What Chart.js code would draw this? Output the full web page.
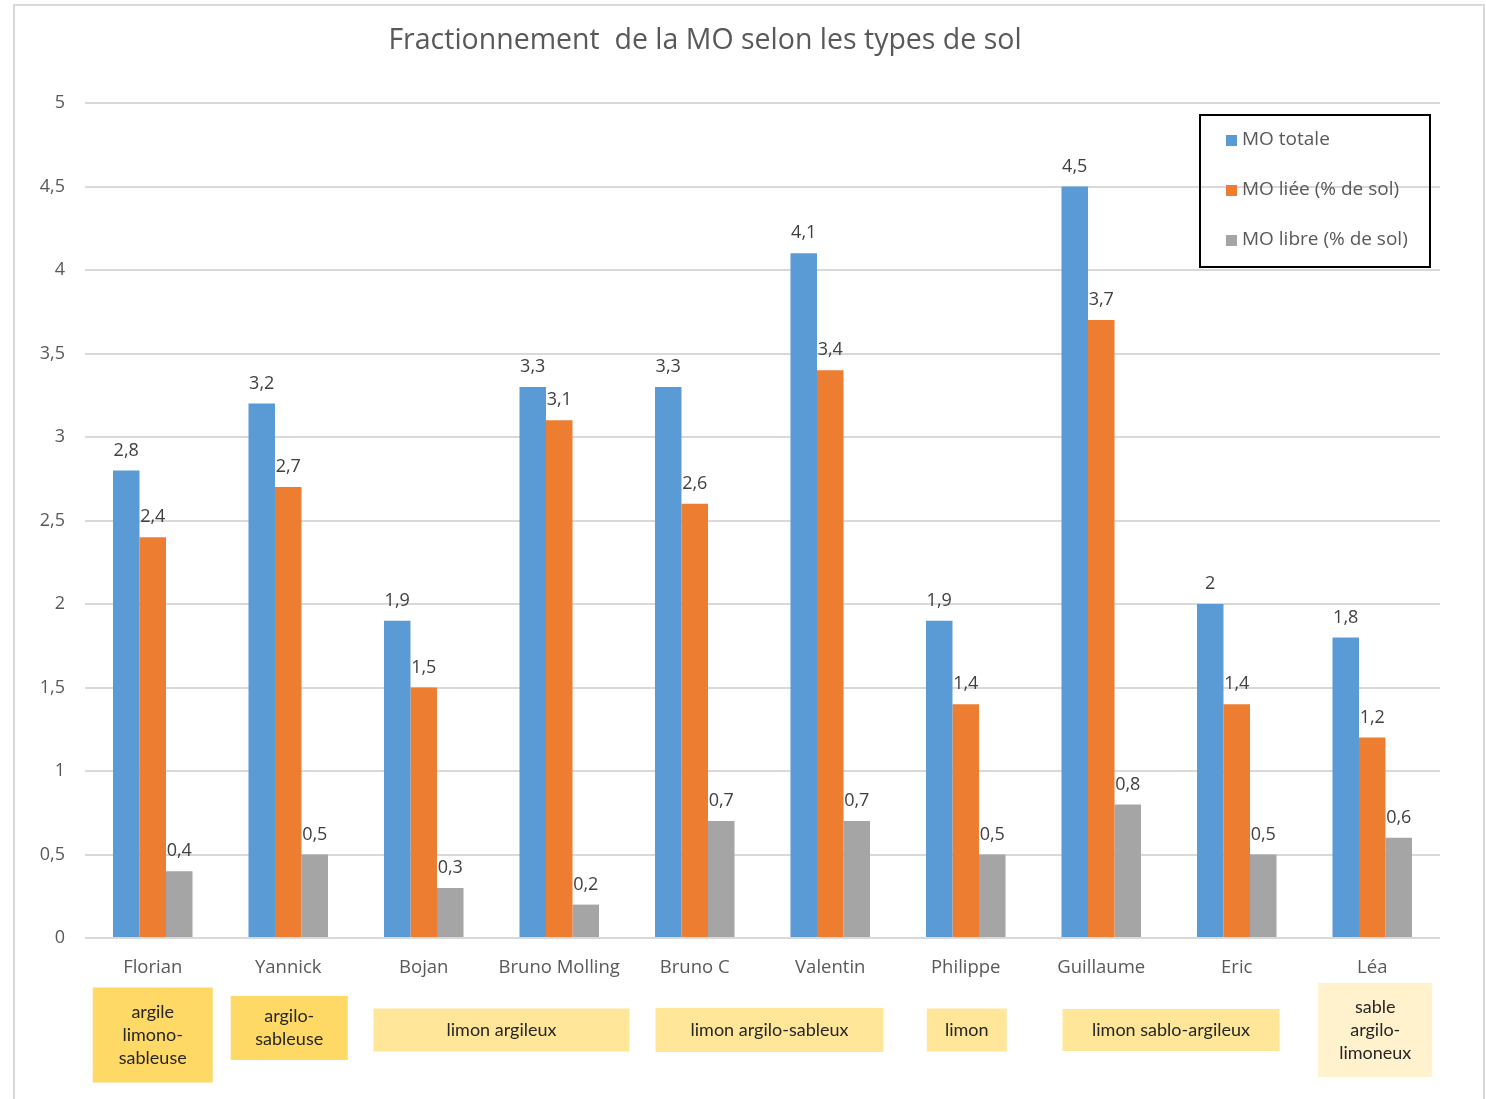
<!DOCTYPE html>
<html>
<head>
<meta charset="utf-8">
<script src="https://cdn.jsdelivr.net/npm/chart.js@4"></script>
<style>
  html, body { margin: 0; padding: 0; background: #fff; }
  canvas { display: block; }
</style>
</head>
<body>
<canvas id="moChart" width="1486" height="1099"></canvas>
<script>
// Données
const personnes = ['Florian', 'Yannick', 'Bojan', 'Bruno Molling', 'Bruno C', 'Valentin', 'Philippe', 'Guillaume', 'Eric', 'Léa'];
const moTotale = [2.8, 3.2, 1.9, 3.3, 3.3, 4.1, 1.9, 4.5, 2, 1.8];
const moLiee = [2.4, 2.7, 1.5, 3.1, 2.6, 3.4, 1.4, 3.7, 1.4, 1.2];
const moLibre = [0.4, 0.5, 0.3, 0.2, 0.7, 0.7, 0.5, 0.8, 0.5, 0.6];

// Types de sol (texte + catégories couvertes)
const typesSol = [['argile', 'limono-', 'sableuse'], ['argilo-', 'sableuse'], ['limon argileux'], ['limon argilo-sableux'], ['limon'], ['limon sablo-argileux'], ['sable', 'argilo-', 'limoneux']];
const solDebut = [0, 1, 2, 4, 6, 7, 9];
const solFin = [0, 1, 3, 5, 6, 8, 9];

// Apparence des cases de sol (décalage x, largeur, hauteur, couleur)
const styleSol = [
  { dx: 0, w: 120, h: 95, cy: 1035, color: '#FFD966' },
  { dx: 1, w: 117, h: 64, cy: 1028, color: '#FFD966' },
  { dx: 10, w: 256, h: 43, cy: 1030, color: '#FFE699' },
  { dx: 7, w: 228, h: 44, cy: 1030, color: '#FFE699' },
  { dx: 1, w: 80, h: 43, cy: 1030, color: '#FFE699' },
  { dx: 2, w: 217, h: 42, cy: 1030, color: '#FFE699' },
  { dx: 3, w: 114, h: 94, cy: 1030, color: '#FFF2CC' }
];

const TEXT = '#595959';
const fmt = v => String(v).replace('.', ',');

const decorPlugin = {
  id: 'decor',
  beforeDraw(chart) {
    const ctx = chart.ctx;
    ctx.save();
    // cadre
    ctx.strokeStyle = '#D9D9D9';
    ctx.lineWidth = 2;
    ctx.beginPath();
    ctx.moveTo(14, 1099);
    ctx.lineTo(14, 5);
    ctx.lineTo(1484, 5);
    ctx.lineTo(1484, 1099);
    ctx.stroke();
    // titre
    ctx.fillStyle = TEXT;
    ctx.font = '28.5px "Open Sans"';
    ctx.textAlign = 'center';
    ctx.textBaseline = 'middle';
    ctx.fillText('Fractionnement  de la MO selon les types de sol', 705, 41);
    ctx.restore();
  },
  afterDatasetsDraw(chart) {
    const ctx = chart.ctx;
    ctx.save();
    ctx.font = '18px "Open Sans"';
    ctx.fillStyle = '#404040';
    ctx.textAlign = 'center';
    ctx.textBaseline = 'bottom';
    chart.data.datasets.forEach((ds, i) => {
      chart.getDatasetMeta(i).data.forEach((bar, j) => {
        ctx.fillText(fmt(ds.data[j]), bar.x, bar.y - 11);
      });
    });
    ctx.restore();
  },
  afterDraw(chart) {
    const ctx = chart.ctx;
    const x = chart.scales.x;
    ctx.save();
    // cases des types de sol
    ctx.font = '18px Lato';
    ctx.textAlign = 'center';
    ctx.textBaseline = 'middle';
    typesSol.forEach((lignes, i) => {
      const st = styleSol[i];
      const cx = (x.getPixelForValue(solDebut[i]) + x.getPixelForValue(solFin[i])) / 2 + st.dx;
      ctx.fillStyle = st.color;
      ctx.fillRect(cx - st.w / 2, st.cy - st.h / 2, st.w, st.h);
      ctx.fillStyle = '#262626';
      const lh = 23;
      const y0 = st.cy - (lignes.length - 1) * lh / 2;
      lignes.forEach((t, k) => ctx.fillText(t, cx, y0 + k * lh));
    });
    // légende
    ctx.strokeStyle = '#000';
    ctx.lineWidth = 2;
    ctx.strokeRect(1200, 115, 230, 152);
    ctx.font = '19px "Open Sans"';
    ctx.textAlign = 'left';
    chart.data.datasets.forEach((ds, i) => {
      const y = 140 + i * 50;
      ctx.fillStyle = ds.backgroundColor;
      ctx.fillRect(1226, y - 5, 11, 11);
      ctx.fillStyle = TEXT;
      ctx.fillText(ds.label, 1242, y);
    });
    ctx.restore();
  }
};

new Chart(document.getElementById('moChart'), {
  type: 'bar',
  data: {
    labels: personnes,
    datasets: [
      { label: 'MO totale', data: moTotale, backgroundColor: '#5B9BD5' },
      { label: 'MO liée (% de sol)', data: moLiee, backgroundColor: '#ED7D31' },
      { label: 'MO libre (% de sol)', data: moLibre, backgroundColor: '#A5A5A5' }
    ]
  },
  options: {
    responsive: false,
    animation: false,
    devicePixelRatio: 1,
    layout: { padding: { left: 14, right: 46, top: 103, bottom: 0 } },
    datasets: { bar: { categoryPercentage: 0.587, barPercentage: 1 } },
    plugins: {
      legend: { display: false },
      title: { display: false },
      tooltip: { enabled: false }
    },
    scales: {
      x: {
        grid: { display: false },
        border: { display: false },
        ticks: { color: TEXT, font: { family: 'Open Sans', size: 18.5 }, padding: 11 },
        afterFit(scale) { scale.height = 161; }
      },
      y: {
        min: 0,
        max: 5,
        grid: { color: '#D9D9D9', lineWidth: 2, drawTicks: false },
        border: { display: false },
        ticks: {
          stepSize: 0.5,
          color: TEXT,
          font: { family: 'Open Sans', size: 18 },
          padding: 20,
          callback: v => fmt(v)
        },
        afterFit(scale) { scale.width = 71; }
      }
    }
  },
  plugins: [decorPlugin]
});
</script>
</body>
</html>
